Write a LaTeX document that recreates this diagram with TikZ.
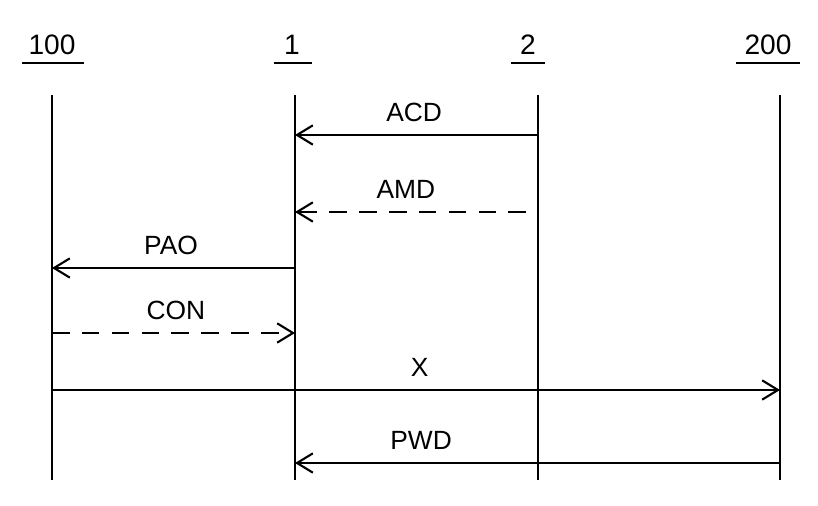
\documentclass[tikz,border=0pt]{standalone}
\usepackage{fontspec}
\setmainfont{Liberation Sans}
\usetikzlibrary{arrows.meta,positioning,calc}

\begin{document}
\begin{tikzpicture}[
    x=0.02cm, y=-0.02cm,
    head/.style={font=\fontsize{16}{18}\selectfont, inner sep=1pt},
    lifeline/.style={line width=1.2pt},
    msg/.style={-{Straight Barb[length=9pt,width=11pt,line width=1.2pt]}, line width=0.9pt},
    reply/.style={msg, dash pattern=on 10pt off 7pt},
    lbl/.style={font=\fontsize{15}{17}\selectfont, above=6pt, inner sep=1pt}
]
\useasboundingbox (0,0) rectangle (818,506);

% lifeline heads
\node[head] (h100) at (52,45) {100};
\node[head] (h1) at (292,45) {1};
\node[head] (h2) at (528,45) {2};
\node[head] (h200) at (768,45) {200};
\draw[line width=1.1pt] (h100.south west) ++(-4,6) -- ++(62,0);
\draw[line width=1.1pt] (h1.south) ++(-18,6) -- ++(38,0);
\draw[line width=1.1pt] (h2.south) ++(-17,6) -- ++(34,0);
\draw[line width=1.1pt] (h200.south) ++(-32,6) -- ++(64,0);

% lifelines
\coordinate (t100) at (52,95);
\coordinate (t1) at (295,95);
\coordinate (t2) at (538,95);
\coordinate (t200) at (780,95);
\foreach \p in {100,1,2,200}
  \draw[lifeline] (t\p) -- (t\p |- 0,480);

% messages
\draw[msg] (t2 |- 0,135) -- (t1 |- 0,135) node[lbl, pos=0.51] {ACD};
\draw[reply] ($(t2 |- 0,212)+(-12,0)$) -- (t1 |- 0,212) node[lbl, pos=0.52] {AMD};
\draw[msg] (t1 |- 0,268) -- (t100 |- 0,268) node[lbl, pos=0.51] {PAO};
\draw[reply] (t100 |- 0,333) -- (t1 |- 0,333) node[lbl, pos=0.51] {CON};
\draw[msg] (t100 |- 0,390) -- (t200 |- 0,390) node[lbl, pos=0.505] {X};
\draw[msg] (t200 |- 0,463) -- (t1 |- 0,463) node[lbl, pos=0.74] {PWD};

\end{tikzpicture}
\end{document}
